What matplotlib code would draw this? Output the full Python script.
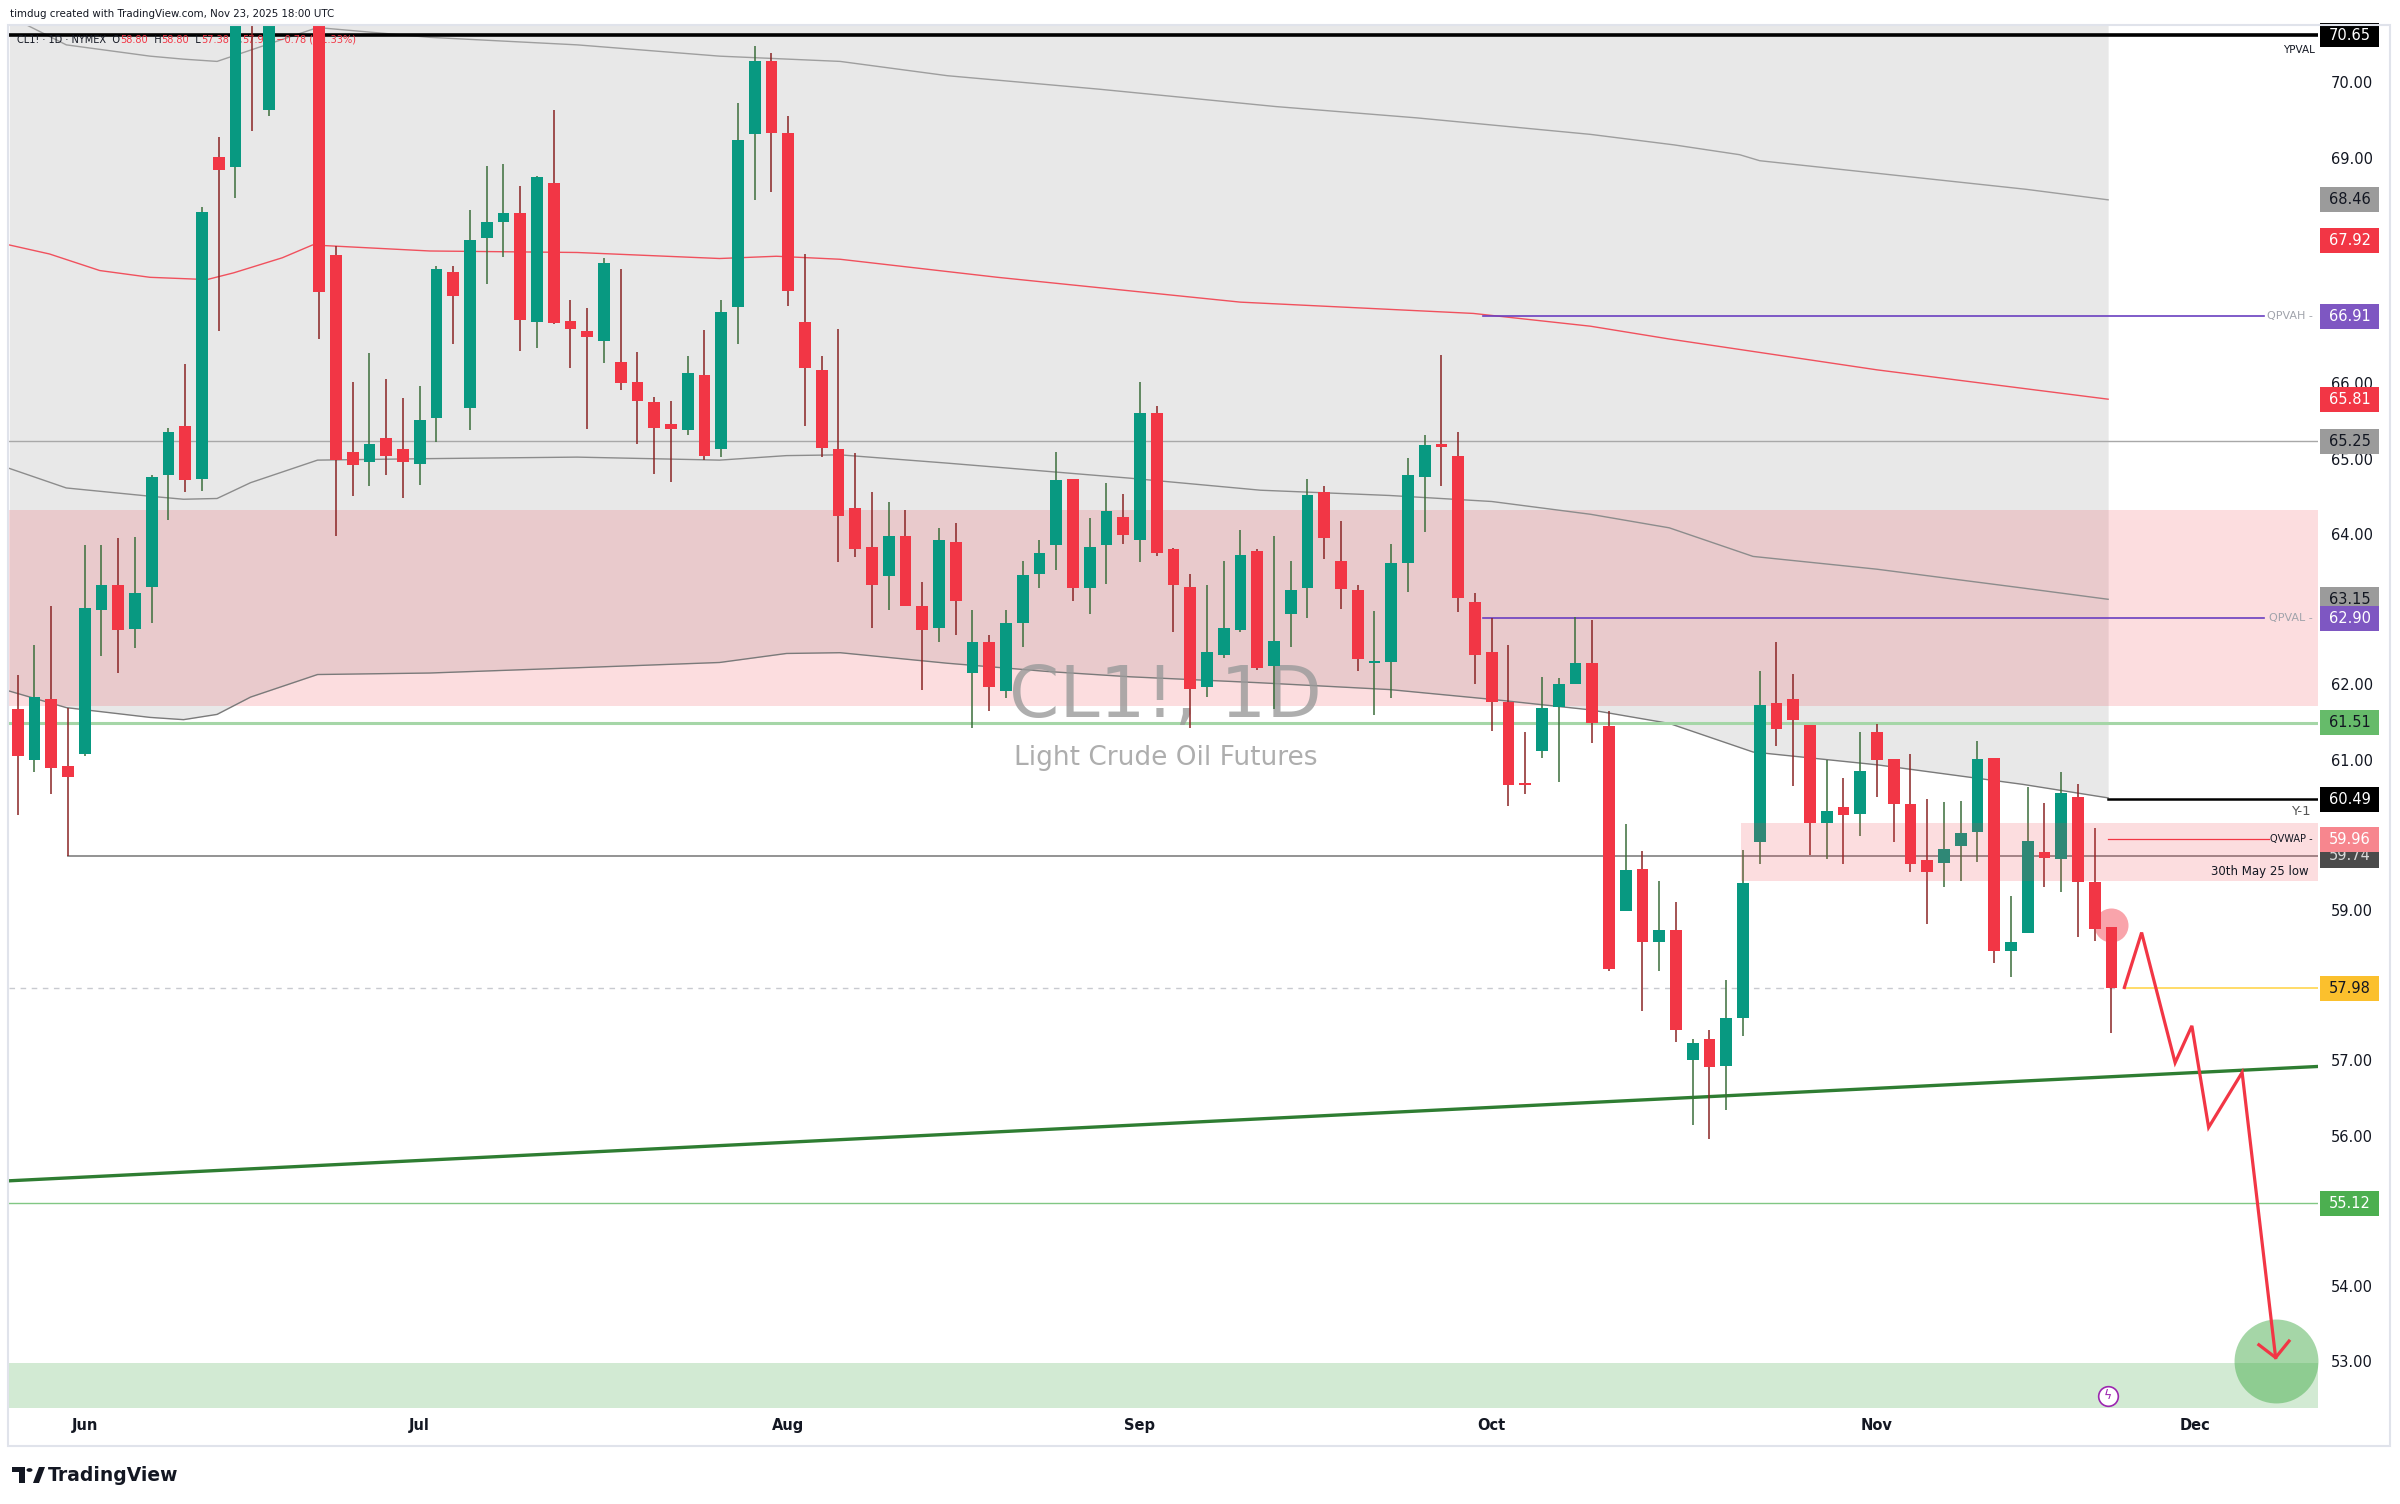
import numpy as np
import pandas as pd
import matplotlib
matplotlib.use('Agg')
import matplotlib.pyplot as plt
import matplotlib.transforms as mtransforms
from matplotlib.patches import Rectangle, Polygon, Circle
from matplotlib.offsetbox import TextArea, HPacker, AnnotationBbox

# ---------------- data ----------------
holidays = ['2025-06-19', '2025-07-04', '2025-09-01', '2025-11-27']

opens = [61.69, 61.02, 61.82, 60.93, 61.09, 63.01, 63.34, 62.76, 63.32, 64.80,
         65.45, 64.75, 69.03, 68.89, 73.50, 69.65, 74.90, 74.90, 73.80, 67.73,
         65.11, 64.98, 65.29, 65.15, 64.95, 65.56, 67.50, 65.69, 67.95, 68.17,
         68.29, 66.84, 68.68, 66.85, 66.72, 66.59, 66.31, 66.04, 65.77, 65.48,
         65.40, 66.13, 65.15, 67.03, 69.33, 70.30, 69.35, 66.84, 66.20, 65.15,
         64.36, 63.85, 63.46, 63.99, 63.06, 62.77, 63.91, 62.17, 62.58, 61.93,
         62.83, 63.49, 63.87, 64.75, 63.30, 63.87, 64.25, 63.94, 65.62, 63.82,
         63.32, 61.99, 62.41, 62.74, 63.79, 62.26, 62.95, 63.30, 64.57, 63.66,
         63.27, 62.30, 62.31, 63.63, 64.78, 65.20, 65.06, 63.12, 62.45, 61.78,
         60.71, 61.14, 61.72, 62.03, 62.30, 61.47, 59.00, 59.57, 58.60, 58.76,
         57.02, 57.31, 56.94, 57.59, 59.92, 61.77, 61.82, 61.48, 60.17, 60.39,
         60.29, 61.38, 61.03, 60.43, 59.68, 59.65, 59.87, 60.06, 61.04, 58.47,
         58.71, 59.79, 59.70, 60.52, 59.39, 58.80]
highs = [62.14, 62.54, 63.06, 61.71, 63.87, 63.87, 63.96, 63.98, 64.80, 65.43,
         66.28, 68.36, 69.29, 77.00, 74.50, 75.20, 75.70, 75.60, 75.00, 67.84,
         66.04, 66.43, 66.08, 65.82, 65.98, 67.58, 67.58, 68.32, 68.91, 68.93,
         68.65, 68.78, 69.65, 67.13, 67.02, 67.69, 67.54, 66.44, 65.84, 65.78,
         66.39, 66.73, 67.13, 69.75, 70.51, 70.41, 69.58, 67.74, 66.39, 66.74,
         65.10, 64.58, 64.44, 64.34, 63.38, 64.10, 64.16, 63.01, 62.68, 63.01,
         63.66, 63.94, 65.11, 64.75, 64.23, 64.70, 64.55, 66.04, 65.72, 63.83,
         63.48, 63.34, 63.66, 64.07, 63.82, 63.99, 63.66, 64.75, 64.65, 64.19,
         63.34, 63.00, 63.88, 65.03, 65.33, 66.40, 65.38, 63.24, 62.90, 62.54,
         61.38, 62.12, 62.11, 62.91, 62.87, 61.67, 60.16, 59.81, 59.41, 59.12,
         57.31, 57.43, 58.09, 59.82, 62.20, 62.58, 62.16, 61.48, 61.01, 60.78,
         61.38, 61.49, 61.03, 61.09, 60.50, 60.45, 60.47, 61.27, 61.04, 59.20,
         60.65, 60.44, 60.85, 60.69, 60.11, 58.80]
lows = [60.28, 60.86, 60.56, 59.74, 61.07, 62.40, 62.17, 62.50, 62.83, 64.20,
        64.58, 64.59, 66.72, 68.49, 69.38, 69.57, 73.60, 72.80, 66.61, 63.99,
        64.52, 64.65, 64.80, 64.50, 64.67, 65.24, 66.54, 65.40, 67.34, 67.70,
        66.45, 66.49, 66.81, 66.22, 65.42, 66.29, 65.93, 65.22, 64.82, 64.71,
        65.34, 65.00, 65.04, 66.54, 68.46, 68.56, 67.05, 65.45, 65.04, 63.65,
        63.71, 62.77, 63.01, 63.06, 61.95, 62.58, 62.68, 61.44, 61.66, 61.84,
        62.52, 63.30, 63.54, 63.13, 62.96, 63.35, 63.89, 63.65, 63.72, 62.71,
        61.44, 61.85, 62.37, 62.72, 62.21, 61.69, 62.51, 62.90, 63.69, 63.02,
        62.20, 61.61, 61.84, 63.25, 64.05, 64.65, 62.98, 62.03, 61.40, 60.40,
        60.56, 61.04, 60.72, 62.03, 61.24, 58.21, 59.00, 57.68, 58.21, 57.26,
        56.16, 55.97, 56.36, 57.34, 59.63, 61.20, 60.67, 59.75, 59.70, 59.63,
        60.00, 60.52, 59.93, 59.53, 58.83, 59.33, 59.41, 59.66, 58.31, 58.13,
        58.71, 59.33, 59.26, 58.66, 58.61, 57.38]
closes = [61.07, 61.85, 60.91, 60.79, 63.04, 63.34, 62.74, 63.24, 64.77, 65.38,
          64.74, 68.30, 68.86, 72.98, 71.77, 74.84, 75.14, 73.84, 67.24, 65.00,
          64.93, 65.21, 65.06, 64.97, 65.53, 67.54, 67.18, 67.92, 68.17, 68.29,
          66.86, 68.76, 66.82, 66.74, 66.63, 67.62, 66.03, 65.78, 65.43, 65.41,
          66.16, 65.05, 66.97, 69.25, 70.30, 69.35, 67.25, 66.23, 65.16, 64.26,
          63.82, 63.34, 63.99, 63.06, 62.74, 63.94, 63.13, 62.58, 61.99, 62.83,
          63.47, 63.76, 64.74, 63.30, 63.85, 64.32, 64.00, 65.62, 63.76, 63.34,
          61.96, 62.45, 62.77, 63.74, 62.24, 62.59, 63.27, 64.54, 63.96, 63.29,
          62.35, 62.33, 63.63, 64.80, 65.20, 65.18, 63.17, 62.41, 61.79, 60.68,
          60.68, 61.71, 62.03, 62.30, 61.51, 58.24, 59.55, 58.60, 58.75, 57.43,
          57.25, 56.93, 57.58, 59.38, 61.74, 61.43, 61.54, 60.17, 60.34, 60.28,
          60.87, 61.01, 60.43, 59.63, 59.52, 59.83, 60.05, 61.03, 58.47, 58.60,
          59.94, 59.71, 60.57, 59.39, 58.77, 57.98]

# anchored VWAP channel curves (bar position, price)
upper_x = [-0.5, 2.9, 7.9, 9.9, 11.9, 13.9, 17.9, 24.6, 33.4, 41.9, 49.1, 55.5,
           64.6, 75.1, 83.5, 93.9, 98.9, 102.8, 104.0, 110.7, 119.9, 124.8]
upper_band = [70.90, 70.52, 70.37, 70.33, 70.30, 70.45, 70.75, 70.62, 70.52, 70.37,
              70.30, 70.11, 69.93, 69.70, 69.55, 69.33, 69.19, 69.06, 68.98, 68.82,
              68.60, 68.46]
band_x = [-0.5, 2.9, 7.9, 9.9, 11.9, 13.9, 17.9, 24.6, 33.4, 41.9, 45.9, 49.1,
          55.5, 61.5, 66.4, 74.2, 81.9, 88.0, 93.9, 98.6, 103.6, 111.0, 119.7, 124.8]
mid_vwap = [64.89, 64.63, 64.52, 64.48, 64.49, 64.70, 65.00, 65.02, 65.04, 65.00,
            65.06, 65.07, 64.96, 64.85, 64.76, 64.60, 64.53, 64.45, 64.28, 64.10,
            63.72, 63.55, 63.30, 63.15]
lower_band = [61.93, 61.71, 61.58, 61.55, 61.62, 61.85, 62.15, 62.17, 62.24, 62.31,
              62.43, 62.44, 62.30, 62.19, 62.12, 62.04, 61.95, 61.82, 61.68, 61.50,
              61.12, 60.95, 60.69, 60.51]
red_x = [-0.5, 1.9, 4.9, 7.9, 11.3, 12.9, 15.8, 17.6, 24.6, 33.4, 41.9, 45.3,
         49.1, 58.5, 73.0, 86.9, 93.9, 98.6, 111.0, 124.8]
red_line = [67.86, 67.74, 67.52, 67.43, 67.40, 67.49, 67.69, 67.86, 67.78, 67.76,
            67.68, 67.71, 67.67, 67.43, 67.10, 66.95, 66.78, 66.61, 66.20, 65.81]

# levels
ypval, qpvah, qpval, qvwap = 70.65, 66.91, 62.90, 59.96
year_1, may30_low, last_price = 60.49, 59.74, 57.98
gray_level, green_level, support_level = 65.25, 61.51, 55.12
upper_zone = (61.73, 64.34)
lower_zone = (59.40, 60.17)
target_zone = (52.40, 53.00)
trend_x = [-0.52, 137.33]
trend_y = [55.42, 56.94]

# projected path (bar position, price)
path_x = [125.77, 126.8, 128.8, 129.8, 130.8, 132.8, 134.8]
path_y = [57.99, 58.72, 56.99, 57.48, 56.13, 56.86, 53.07]
arrow_x = [133.8, 134.8, 135.6]
arrow_y = [53.24, 53.07, 53.29]

# visible price scale ticks (others hidden behind value labels)
price_ticks = [53, 54, 56, 57, 59, 61, 62, 64, 65, 66, 69, 70]
axis_labels = [  # value, background, text colour
    (70.65, '#000000', '#FFFFFF'),
    (68.46, '#9B9B9B', '#131722'),
    (67.92, '#F23645', '#FFFFFF'),
    (66.91, '#7E57C2', '#FFFFFF'),
    (65.81, '#F23645', '#FFFFFF'),
    (65.25, '#9B9B9B', '#131722'),
    (63.15, '#9B9B9B', '#131722'),
    (62.90, '#7E57C2', '#FFFFFF'),
    (61.51, '#66BB6A', '#131722'),
    (60.49, '#000000', '#FFFFFF'),
    (59.74, '#4A4A4A', '#D8D8D8'),
    (59.96, '#F7868E', '#FFFFFF'),
    (57.98, '#FBC02D', '#131722'),
    (55.12, '#4CAF50', '#FFFFFF'),
]

# ---------------- figure ----------------
W, H = 2400, 1504
fig = plt.figure(figsize=(W / 100, H / 100), dpi=100)
fig.patch.set_facecolor('white')
ax = fig.add_axes([9 / W, (H - 1408) / H, 2309 / W, 1383 / H])
ax.set_xlim(-0.52, 137.33)
ax.set_ylim(52.40, 70.784)
ax.axis('off')

n = len(opens)
xs = np.arange(n)
dates_all = pd.bdate_range('2025-05-27', '2025-12-31')
dates_all = dates_all[~dates_all.isin(pd.to_datetime(holidays))]

XMIN, XMAX = -0.52, 137.33

# gray VWAP channel region (to top) ending at band end
ax.fill_between(np.array(band_x), np.array(lower_band), 72, color='#E8E8E8', zorder=0.5, lw=0)
# upper pink zone
ax.add_patch(Rectangle((XMIN, upper_zone[0]), XMAX - XMIN, upper_zone[1] - upper_zone[0],
                       facecolor='#F23645', alpha=0.17, lw=0, zorder=0.6))
# target green zone
ax.add_patch(Rectangle((XMIN, target_zone[0]), XMAX - XMIN, target_zone[1] - target_zone[0],
                       facecolor='#4CAF50', alpha=0.25, lw=0, zorder=0.6))

# channel curves
ax.plot(upper_x, upper_band, color='#9E9E9E', lw=1.0, zorder=1)
ax.plot(band_x, mid_vwap, color='#8C8C8C', lw=1.0, zorder=1)
ax.plot(band_x, lower_band, color='#7A7A7A', lw=1.0, zorder=1)
ax.plot(red_x, red_line, color='#F23645', lw=1.0, alpha=0.85, zorder=1)

# horizontal levels
ax.plot([XMIN, XMAX], [ypval, ypval], color='#000000', lw=2.6, zorder=2)
ax.plot([XMIN, XMAX], [gray_level, gray_level], color='#A8A8A8', lw=1.0, zorder=1)
ax.plot([XMIN, XMAX], [green_level, green_level], color='#A5D6A7', lw=2.2, zorder=1)
ax.plot([3, XMAX], [may30_low, may30_low], color='#8A8A8A', lw=1.3, zorder=1)
ax.plot([XMIN, XMAX], [support_level, support_level], color='#81C784', lw=1.0, zorder=1)
ax.plot([XMIN, 125.3], [last_price, last_price], color='#C8CAD0', lw=1.0,
        ls=(0, (4, 4)), zorder=1)
ax.plot([125.77, XMAX], [last_price, last_price], color='#FFD54F', lw=1.2, zorder=1)
ax.plot([87.5, 134.1], [qpvah, qpvah], color='#6A3FC0', lw=1.2, zorder=1.2)
ax.plot([87.5, 134.1], [qpval, qpval], color='#6A3FC0', lw=1.2, zorder=1.2)
ax.plot([124.8, XMAX], [year_1, year_1], color='#000000', lw=1.8, zorder=1.2)
ax.plot([124.8, 134.4], [qvwap, qvwap], color='#F23645', lw=0.9, zorder=1.2)

# trend line
ax.plot(trend_x, trend_y, color='#2E7D32', lw=2.4, zorder=2.5)

# watermark
ax.text(68.55, 61.84, 'CL1!, 1D', fontsize=52, color='#9A9A9A', alpha=0.8,
        ha='center', va='center', zorder=1.5)
ax.text(68.55, 61.04, 'Light Crude Oil Futures', fontsize=19, color='#9A9A9A',
        alpha=0.8, ha='center', va='center', zorder=1.5)

# candles
up_c, dn_c = '#089981', '#F23645'
up_w, dn_w = '#3B6E3B', '#8A2424'
o = np.array(opens); c = np.array(closes); h = np.array(highs); l = np.array(lows)
up = c >= o
ax.vlines(xs[up], l[up], h[up], color=up_w, lw=1.1, zorder=3)
ax.vlines(xs[~up], l[~up], h[~up], color=dn_w, lw=1.1, zorder=3)
bottoms = np.minimum(o, c)
heights = np.maximum(np.abs(c - o), 0.03)
ax.bar(xs[up], heights[up], 0.7, bottoms[up], color=up_c, lw=0, zorder=3.2)
ax.bar(xs[~up], heights[~up], 0.7, bottoms[~up], color=dn_c, lw=0, zorder=3.2)

# lower pink zone drawn over candles
ax.add_patch(Rectangle((102.9, lower_zone[0]), XMAX - 102.9, lower_zone[1] - lower_zone[0],
                       facecolor='#F23645', alpha=0.17, lw=0, zorder=4))

# projection path
ax.plot(path_x, path_y, color='#F23645', lw=2.3, zorder=5, solid_joinstyle='miter')
ax.plot(arrow_x, arrow_y, color='#F23645', lw=2.3, zorder=5)
ax.scatter([125], [58.82], s=600, color='#F23645', alpha=0.45, lw=0, zorder=4.5)
ax.scatter([134.8], [53.03], s=3650, color='#4CAF50', alpha=0.5, lw=0, zorder=4.5)

# lightning icon
ax.scatter([124.8], [52.56], s=200, facecolor='white', edgecolor='#9C27B0', lw=1.2, zorder=5)
ax.text(124.8, 52.56, 'ϟ', fontsize=9, color='#9C27B0', ha='center', va='center', zorder=5.1)

# in-pane level texts
ax.text(137.15, ypval - 0.13, 'YPVAL', fontsize=7.5, color='#131722', ha='right', va='top', zorder=5)
ax.text(137.0, qpvah, 'QPVAH -', fontsize=8, color='#A0A3AB', ha='right', va='center', zorder=5)
ax.text(137.0, qpval, 'QPVAL -', fontsize=8, color='#A0A3AB', ha='right', va='center', zorder=5)
ax.text(137.0, qvwap, 'QVWAP -', fontsize=7, color='#131722', ha='right', va='center', zorder=5)
ax.text(136.9, year_1 - 0.08, 'Y-1', fontsize=9.5, color='#555555', ha='right', va='top', zorder=5)
ax.text(136.8, may30_low - 0.12, '30th May 25 low', fontsize=8.5, color='#131722',
        ha='right', va='top', zorder=5)

# price scale
tr = mtransforms.blended_transform_factory(ax.transAxes, ax.transData)
for v in price_ticks:
    ax.text(1.0147, v, f'{v:.2f}', transform=tr, fontsize=10.5, color='#131722',
            ha='center', va='center', clip_on=False, zorder=6)
for k, (v, bg, fg) in enumerate(axis_labels):
    ax.add_patch(Rectangle((1.0009, v - 0.165), 0.0256, 0.33, transform=tr,
                           facecolor=bg, edgecolor='none', clip_on=False, zorder=7 + k * 0.01))
    ax.text(1.0137, v, f'{v:.2f}', transform=tr, fontsize=10.5, color=fg,
            ha='center', va='center', clip_on=False, zorder=7.005 + k * 0.01)

# time axis
trx = mtransforms.blended_transform_factory(ax.transData, ax.transAxes)
months = pd.Series(np.arange(len(dates_all)), index=dates_all)
for per, grp in months.groupby(months.index.to_period('M')):
    if per.month < 6 or per.month > 12:
        continue
    ax.text(grp.iloc[0], -0.013, per.strftime('%b'), transform=trx, fontsize=10.5,
            fontweight='bold', color='#131722', ha='center', va='center', clip_on=False)

# legend (inside pane, under candles)
seg = [('CL1! · 1D · NYMEX  O', '#131722'), ('58.80', '#F23645'), ('  H', '#131722'),
       ('58.80', '#F23645'), ('  L', '#131722'), ('57.38', '#F23645'), ('  C', '#131722'),
       ('57.98', '#F23645'), ('  −0.78 (−1.33%)', '#F23645')]
boxes = [TextArea(t, textprops=dict(color=col, fontsize=7.8, fontstretch='condensed'))
         for t, col in seg]
pack = HPacker(children=boxes, pad=0, sep=0, align='baseline')
ab = AnnotationBbox(pack, (17, H - 40), xycoords='figure pixels', box_alignment=(0, 0.5),
                    frameon=False, pad=0)
ab.set_zorder(2.8)
ax.add_artist(ab)

# header
fig.text(10 / W, 1 - 14 / H, 'timdug created with TradingView.com, Nov 23, 2025 18:00 UTC',
         fontsize=8.2, color='#131722', ha='left', va='center', fontstretch='condensed')

# frame
fig.add_artist(Rectangle((8 / W, 58 / H), 2382 / W, 1421 / H, transform=fig.transFigure,
                         fill=False, edgecolor='#E0E3EB', lw=1.5))

# TradingView logo
def px(x, y):
    return (x / W, 1 - y / H)

fig.add_artist(Polygon([px(12, 1467), px(25, 1467), px(25, 1483), px(19, 1483),
                        px(19, 1472), px(12, 1472)], closed=True, transform=fig.transFigure,
                       facecolor='#131722', edgecolor='none'))
fig.add_artist(Circle(px(29.5, 1470), 3 / W, transform=fig.transFigure,
                      facecolor='#131722', edgecolor='none'))
fig.add_artist(Polygon([px(33, 1483), px(39, 1467), px(45, 1467), px(39, 1483)], closed=True,
                       transform=fig.transFigure, facecolor='#131722', edgecolor='none'))
fig.text(48 / W, 1 - 1475.5 / H, 'TradingView', fontsize=13.5, fontweight='bold',
         color='#131722', ha='left', va='center')

fig.savefig('out.png', dpi=100, facecolor='white')
